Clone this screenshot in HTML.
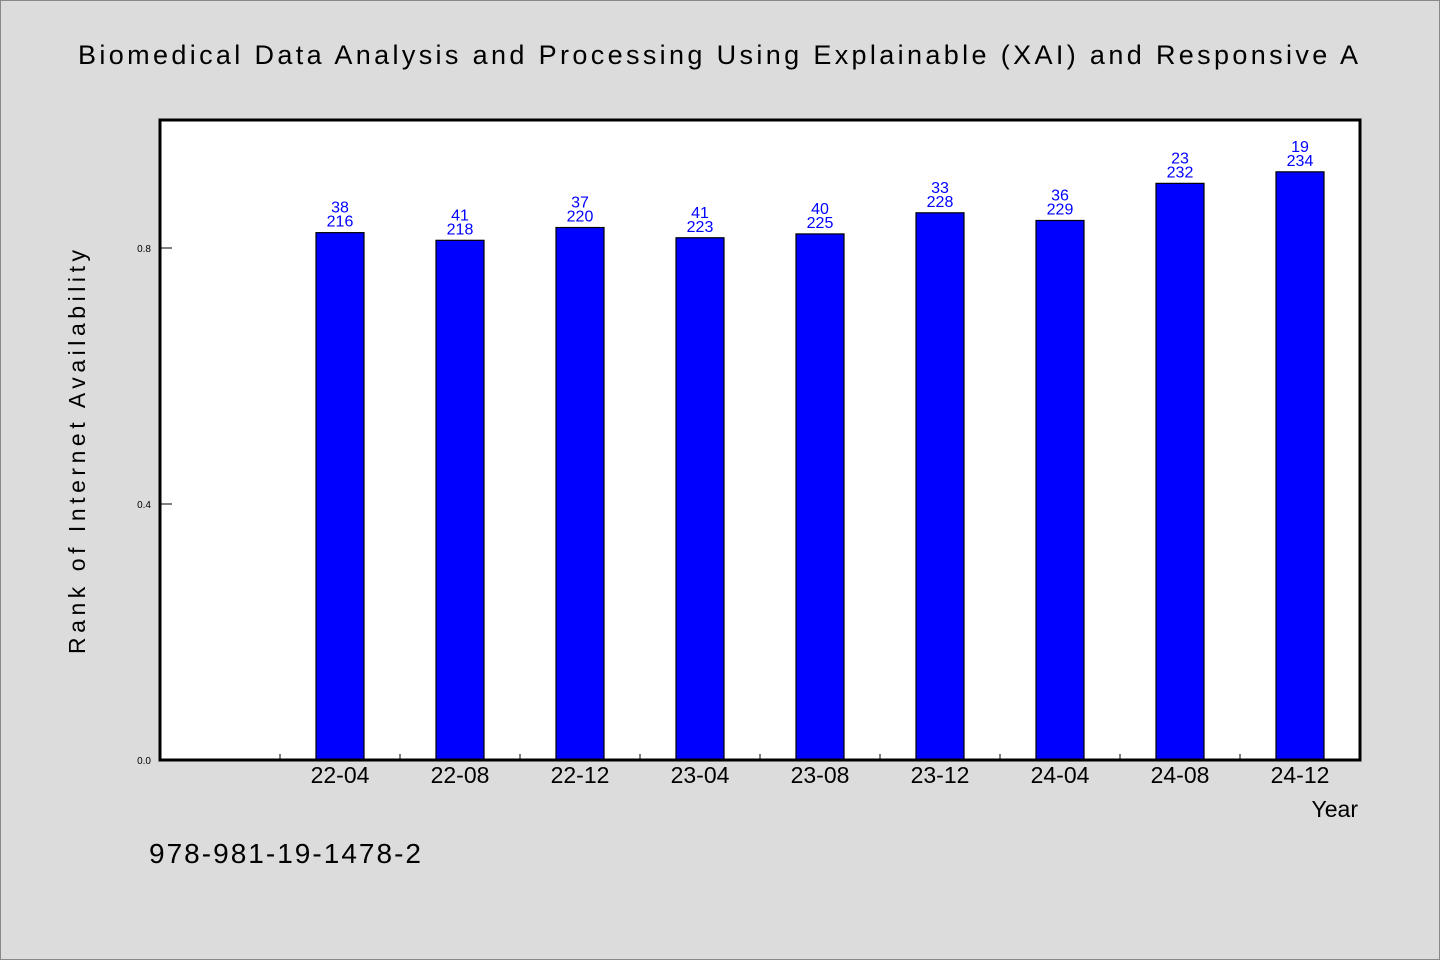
<!DOCTYPE html>
<html><head><meta charset="utf-8"><style>
html,body{margin:0;padding:0;background:#dcdcdc;}
svg{display:block;}
text{font-family:"WenQuanYi Zen Hei","Liberation Sans",sans-serif;}
</style></head><body>
<svg id="chart" width="1440" height="960" xmlns="http://www.w3.org/2000/svg">
<rect x="0.5" y="0.5" width="1439" height="959" fill="#dcdcdc" stroke="#888" stroke-width="1"/>
<text x="78" y="64" font-size="27" textLength="1280" lengthAdjust="spacing" fill="#000">Biomedical Data Analysis and Processing Using Explainable (XAI) and Responsive A</text>
<rect x="160" y="120" width="1200" height="640" fill="#fff"/>
<g id="bars"></g>
<rect x="160" y="120" width="1200" height="640" fill="none" stroke="#000" stroke-width="3"/>
<g id="axes"></g>
<text transform="translate(85,452) rotate(-90)" text-anchor="middle" font-size="23" textLength="404" lengthAdjust="spacing" fill="#000">Rank of Internet Availability</text>
<text x="1358" y="817" text-anchor="end" font-size="23" fill="#000">Year</text>
<text x="149" y="863" font-size="28" textLength="272" lengthAdjust="spacing" fill="#000">978-981-19-1478-2</text>
</svg>
<script>
const categories = ["22-04","22-08","22-12","23-04","23-08","23-12","24-04","24-08","24-12"];
const ranks = [38,41,37,41,40,33,36,23,19];
const totals = [216,218,220,223,225,228,229,232,234];
const values = [0.824,0.812,0.832,0.816,0.822,0.855,0.843,0.901,0.919];
const yTicks = [0.0,0.4,0.8];
const yTickLabels = ["0.0","0.4","0.8"];

const NS="http://www.w3.org/2000/svg";
const plotTop=120,plotBottom=760,plotLeft=160;
function yScale(v){return plotBottom-(plotBottom-plotTop)*v/1.0;}
function xCenter(i){return plotLeft+120*(i+1.5);}
function mk(tag,attrs,parent){const e=document.createElementNS(NS,tag);for(const k in attrs)e.setAttribute(k,attrs[k]);parent.appendChild(e);return e;}
const bars=document.getElementById('bars');
const axes=document.getElementById('axes');
categories.forEach((c,i)=>{
  const cx=xCenter(i), y=yScale(values[i]);
  const r=mk('rect',{x:cx-24,y:y,width:48,height:plotBottom-y,fill:'#0000ff',stroke:'#000','stroke-width':1.2},bars);
  
  
  const t1=mk('text',{x:cx,y:y-20,'text-anchor':'middle','font-size':16,fill:'#0000ff'},bars);
  t1.textContent=ranks[i];
  
  
  const t2=mk('text',{x:cx,y:y-6,'text-anchor':'middle','font-size':16,fill:'#0000ff'},bars);
  t2.textContent=totals[i];
  
  
  const xl=mk('text',{x:cx,y:783,'text-anchor':'middle','font-size':23,fill:'#000'},axes);
  xl.textContent=c;
  
  
  const tk=mk('line',{x1:cx-60,x2:cx-60,y1:760,y2:754,stroke:'#000','stroke-width':1},axes);
  
  
});
yTicks.forEach((v,i)=>{
  const y=yScale(v);
  const l=mk('line',{x1:160,x2:172,y1:y,y2:y,stroke:'#000','stroke-width':1},axes);
  
  
  const t=mk('text',{x:151,y:y+4,'text-anchor':'end','font-size':10,fill:'#000'},axes);
  t.textContent=yTickLabels[i];
  
  
});
</script>
</body></html>
